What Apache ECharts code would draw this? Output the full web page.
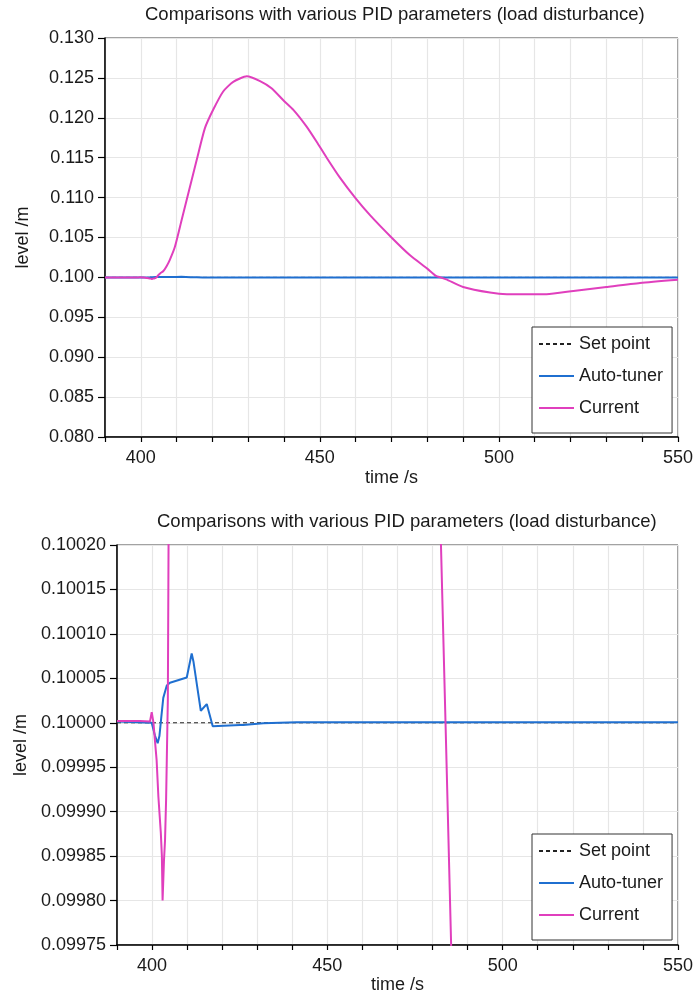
<!DOCTYPE html>
<html>
<head>
<meta charset="utf-8">
<script src="https://cdn.jsdelivr.net/npm/echarts@6/dist/echarts.min.js"></script>
<style>
  html, body { margin: 0; padding: 0; background: #fff; }
  #chart { width: 696px; height: 997px; }
</style>
</head>
<body>
<div id="chart"></div>
<script>
// Tank level response to a load disturbance: set point, auto-tuned PID and current PID.
const chartTitle = 'Comparisons with various PID parameters (load disturbance)';
const seriesNames = ['Set point', 'Auto-tuner', 'Current'];

const setPointTime = [390, 550];
const setPointLevel = [0.1, 0.1];

const tunerTime = [390, 399.9, 400.8, 401.6, 402.1, 402.6, 403.2, 404.2, 405.1, 409.9, 411.3, 411.8,
  413.9, 415.6, 417.3, 425.1, 426.0, 431.7, 441.2, 550];
const tunerLevel = [0.1000013, 0.1, 0.099986, 0.099977, 0.099985, 0.100005, 0.100028, 0.100042, 0.100045,
  0.100051, 0.100078, 0.100069, 0.1000135, 0.100021, 0.099996, 0.0999975, 0.0999975, 0.0999995,
  0.1000005, 0.1000005];

const currentTime = [390, 396.5, 399.4, 399.9, 400.4, 400.8, 401.3, 401.8, 402.5, 402.8, 403.0, 403.4,
  403.7, 404.0, 404.2, 404.5, 404.7, 405.4, 406.3, 407.2, 408.1, 409.5, 411.4, 412.8, 414.2, 415.6,
  417.9, 420.2, 423.0, 425.8, 429.6, 433.3, 436.5, 439.8, 442.6, 446.3, 449.1, 451.9, 455.6, 460.0,
  464.0, 470.0, 475.1, 480.0, 482.4, 483.7, 485.3, 490.0, 497.5, 502.2, 510.5, 513.3, 520.8, 530.0,
  539.4, 550];
const currentLevel = [0.100002, 0.100002, 0.1000013, 0.100012, 0.1, 0.099981, 0.099958, 0.099917,
  0.099876, 0.09985, 0.0998, 0.099845, 0.099868, 0.099913, 0.099958, 0.100026, 0.1002, 0.1005, 0.1008,
  0.1014, 0.1022, 0.1038, 0.1072, 0.1097, 0.1122, 0.1147, 0.1187, 0.1210, 0.1233, 0.1245, 0.1252,
  0.1246, 0.1237, 0.1222, 0.1210, 0.1189, 0.1170, 0.1150, 0.1125, 0.1099, 0.1078, 0.1050, 0.1028,
  0.1011, 0.1002, 0.1000, 0.09975, 0.0988, 0.0981, 0.0979, 0.0979, 0.0979, 0.0983, 0.0988, 0.0993,
  0.0997];

// y-axis ranges for the overview and the zoomed view
const topRange = { min: 0.080, max: 0.130, step: 0.005, digits: 3 };
const bottomRange = { min: 0.09975, max: 0.10020, step: 0.00005, digits: 5 };
const timeRange = { min: 390, max: 550, step: 10, labelEvery: 50 };

const FONT = '"Liberation Sans", Arial, sans-serif';
const TEXT = '#1a1a1a';
const COLORS = { 'Set point': '#222222', 'Auto-tuner': '#1f6fd0', 'Current': '#e03fbd' };

const pairs = (xs, ys) => xs.map((x, i) => [x, ys[i]]);
const dataFor = {
  'Set point': pairs(setPointTime, setPointLevel),
  'Auto-tuner': pairs(tunerTime, tunerLevel),
  'Current': pairs(currentTime, currentLevel)
};

function xAxisFor(gridIndex, gap) {
  return {
    gridIndex, type: 'value', min: timeRange.min, max: timeRange.max, interval: timeRange.step,
    name: 'time /s', nameLocation: 'middle', nameGap: gap,
    nameTextStyle: { fontFamily: FONT, fontSize: 18, color: TEXT },
    axisLine: { show: true, onZero: false, lineStyle: { color: '#000', width: 1.5 } },
    axisTick: { show: true, inside: false, length: 5, lineStyle: { color: '#000', width: 1.2 } },
    axisLabel: {
      margin: 12, fontFamily: FONT, fontSize: 18, color: TEXT,
      showMinLabel: true, showMaxLabel: true,
      formatter: v => (Math.round(v) % timeRange.labelEvery === 0 ? String(Math.round(v)) : '')
    },
    splitLine: { show: true, lineStyle: { color: '#e6e6e6', width: 1.2 } }
  };
}

function yAxisFor(gridIndex, r, gap) {
  return {
    gridIndex, type: 'value', min: r.min, max: r.max, interval: r.step,
    name: 'level /m', nameLocation: 'middle', nameGap: gap, nameRotate: 90,
    nameTextStyle: { fontFamily: FONT, fontSize: 18, color: TEXT },
    axisLine: { show: true, onZero: false, lineStyle: { color: '#000', width: 1.5 } },
    axisTick: { show: true, inside: false, length: 7, lineStyle: { color: '#000', width: 1.2 } },
    axisLabel: {
      margin: 11, fontFamily: FONT, fontSize: 18, color: TEXT,
      formatter: v => v.toFixed(r.digits)
    },
    splitLine: { show: true, lineStyle: { color: '#e6e6e6', width: 1.2 } }
  };
}

// the overview plot rounds the curve slightly; the zoomed plot keeps sharp corners
function seriesFor(idx, smoothCurrent) {
  return seriesNames.map(name => ({
    name, type: 'line', xAxisIndex: idx, yAxisIndex: idx,
    data: dataFor[name], symbol: 'none', showSymbol: false, animation: false,
    clip: true,
    smooth: (smoothCurrent && name === 'Current') ? 0.2 : false,
    lineStyle: name === 'Set point'
      ? { color: COLORS[name], width: 1, type: [4, 3] }
      : { color: COLORS[name], width: 2 },
    itemStyle: { color: COLORS[name] },
    z: 2 + seriesNames.indexOf(name)
  }));
}

function legendFor(left, top) {
  return {
    data: seriesNames, orient: 'vertical', left, top,
    padding: [7, 9, 15, 6], itemGap: 12, itemWidth: 35, itemHeight: 20,
    backgroundColor: '#fff', borderColor: '#333', borderWidth: 1, borderRadius: 0,
    selectedMode: false,
    itemStyle: { color: 'transparent', borderColor: 'transparent', borderWidth: 0, opacity: 0 },
    textStyle: { fontFamily: FONT, fontSize: 18, color: TEXT, lineHeight: 20 }
  };
}

const chart = echarts.init(document.getElementById('chart'), null, { renderer: 'canvas' });
chart.setOption({
  backgroundColor: '#fff',
  animation: false,
  grid: [
    { left: 105, right: 18, top: 38, height: 399, show: true, borderColor: '#444', borderWidth: 1, backgroundColor: 'transparent' },
    { left: 117, right: 18, top: 545, height: 400, show: true, borderColor: '#444', borderWidth: 1, backgroundColor: 'transparent' }
  ],
  xAxis: [xAxisFor(0, 32), xAxisFor(1, 31)],
  yAxis: [yAxisFor(0, topRange, 73), yAxisFor(1, bottomRange, 84)],
  legend: [legendFor(532, 327), legendFor(532, 834)],
  series: [...seriesFor(0, true), ...seriesFor(1, false)],
  graphic: [
    { type: 'text', left: 396 - 251, top: 5, style: { text: chartTitle, font: '18.5px ' + FONT, fill: TEXT } },
    { type: 'text', left: 408 - 251, top: 512, style: { text: chartTitle, font: '18.5px ' + FONT, fill: TEXT } }
  ]
});
</script>
</body>
</html>
